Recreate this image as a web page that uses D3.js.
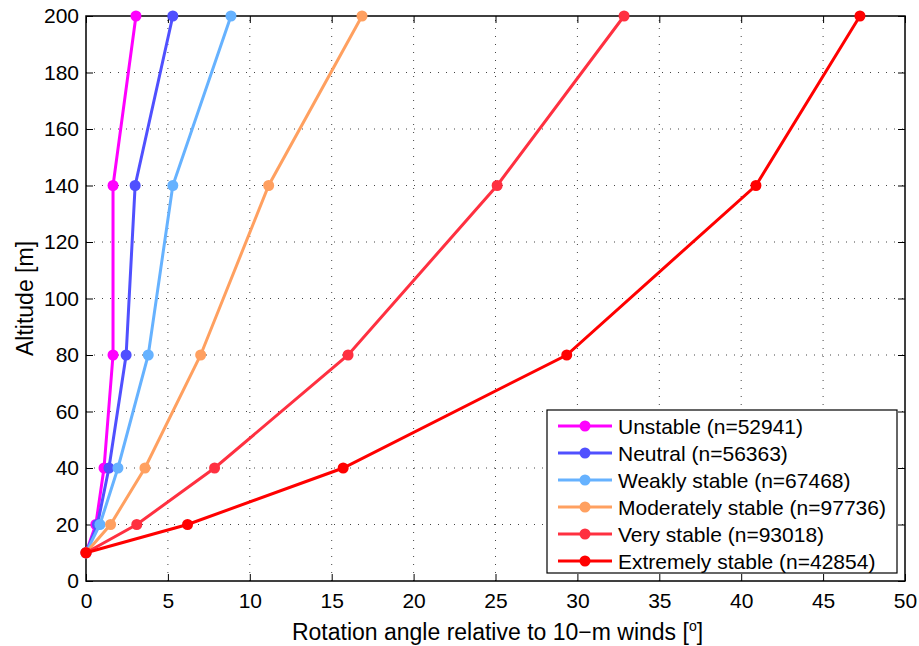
<!DOCTYPE html>
<html>
<head>
<meta charset="utf-8">
<script src="https://cdn.jsdelivr.net/npm/d3@7"></script>
<style>
body { margin: 0; background: #fff; }
svg { font-family: "Liberation Sans", Arial, sans-serif; }
</style>
</head>
<body>
<div id="chart"></div>
<script>
// altitudes of the measurement levels [m]
var altitudes = [10, 20, 40, 80, 140, 200];

var seriesNames = ["Unstable (n=52941)", "Neutral (n=56363)", "Weakly stable (n=67468)",
  "Moderately stable (n=97736)", "Very stable (n=93018)", "Extremely stable (n=42854)"];
var seriesColors = ["#ff00ff", "#5050ff", "#66b2ff", "#ffa060", "#ff3040", "#ff0000"];

// rotation angles [deg] at each altitude
var unstable   = [0, 0.6, 1.1, 1.65, 1.65, 3.05];
var neutral    = [0, 0.7, 1.4, 2.45, 3.0, 5.3];
var weakly     = [0, 0.85, 1.95, 3.8, 5.3, 8.85];
var moderately = [0, 1.5, 3.6, 7.0, 11.15, 16.85];
var very       = [0, 3.1, 7.85, 16.0, 25.1, 32.85];
var extremely  = [0, 6.2, 15.7, 29.35, 40.9, 47.25];

var allSeries = [unstable, neutral, weakly, moderately, very, extremely];

var xTicks = [0, 5, 10, 15, 20, 25, 30, 35, 40, 45, 50];
var yTicks = [0, 20, 40, 60, 80, 100, 120, 140, 160, 180, 200];

var W = 919, H = 646;
var margin = {top: 16, right: 14, bottom: 65, left: 86};
var width = W - margin.left - margin.right,
    height = H - margin.top - margin.bottom;

var svg = d3.select("#chart").append("svg")
  .attr("width", W).attr("height", H);
var g = svg.append("g")
  .attr("transform", "translate(" + margin.left + "," + margin.top + ")");

var x = d3.scaleLinear().domain([0, 50]).range([0, width]);
var y = d3.scaleLinear().domain([0, 200]).range([height, 0]);

// dotted grid
g.append("g").selectAll("line").data(xTicks.slice(1, -1)).enter().append("line")
  .attr("x1", function(d){ return x(d); }).attr("x2", function(d){ return x(d); })
  .attr("y1", height).attr("y2", 0)
  .attr("stroke", "#444").attr("stroke-dasharray", "1,7");
g.append("g").selectAll("line").data(yTicks.slice(1, -1)).enter().append("line")
  .attr("y1", function(d){ return y(d); }).attr("y2", function(d){ return y(d); })
  .attr("x1", 0).attr("x2", width)
  .attr("stroke", "#444").attr("stroke-dasharray", "1,7");

// axes with inward ticks (also on top and right)
function styleAxis(sel) {
  sel.select(".domain").remove();
  sel.selectAll("text").style("font-size", "21px").attr("fill", "#000");
  sel.selectAll("line").attr("stroke", "#000");
}
g.append("g").attr("transform", "translate(0," + height + ")")
  .call(d3.axisBottom(x).tickValues(xTicks).tickSizeInner(-7).tickPadding(12))
  .call(styleAxis);
g.append("g")
  .call(d3.axisLeft(y).tickValues(yTicks).tickSizeInner(-7).tickPadding(7))
  .call(styleAxis);
g.append("g")
  .call(d3.axisTop(x).tickValues(xTicks).tickSizeInner(-7).tickFormat(""))
  .call(styleAxis);
g.append("g").attr("transform", "translate(" + width + ",0)")
  .call(d3.axisRight(y).tickValues(yTicks).tickSizeInner(-7).tickFormat(""))
  .call(styleAxis);

g.append("rect").attr("width", width).attr("height", height)
  .attr("fill", "none").attr("stroke", "#000").attr("stroke-width", 1.5);

// lines
var line = d3.line()
  .x(function(d){ return x(d[0]); })
  .y(function(d){ return y(d[1]); });

allSeries.forEach(function(s, i) {
  var pts = s.map(function(v, j){ return [v, altitudes[j]]; });
  g.append("path").datum(pts)
    .attr("d", line)
    .attr("fill", "none")
    .attr("stroke", seriesColors[i])
    .attr("stroke-width", 3);
  g.selectAll(".pt" + i).data(pts).enter().append("circle")
    .attr("class", "pt" + i)
    .attr("cx", function(d){ return x(d[0]); })
    .attr("cy", function(d){ return y(d[1]); })
    .attr("r", 5.5)
    .attr("fill", seriesColors[i]);
});

// axis labels
svg.append("text")
  .attr("x", margin.left + width / 2 + 2).attr("y", 640)
  .attr("text-anchor", "middle").style("font-size", "23px")
  .html('Rotation angle relative to 10\u2212m winds [<tspan dy="-9" font-size="14px">o</tspan><tspan dy="9">]</tspan>');
svg.append("text")
  .attr("transform", "translate(33," + (margin.top + height / 2) + ") rotate(-90)")
  .attr("text-anchor", "middle").style("font-size", "23px")
  .text("Altitude [m]");

// legend
var legend = svg.append("g").attr("transform", "translate(547,410)");
legend.append("rect").attr("width", 350).attr("height", 163)
  .attr("fill", "#fff").attr("stroke", "#000").attr("stroke-width", 1.2);
seriesNames.forEach(function(name, i) {
  var ly = 16 + i * 27;
  legend.append("line").attr("x1", 11).attr("x2", 65)
    .attr("y1", ly).attr("y2", ly)
    .attr("stroke", seriesColors[i]).attr("stroke-width", 3);
  legend.append("circle").attr("cx", 38).attr("cy", ly).attr("r", 5.5)
    .attr("fill", seriesColors[i]);
  legend.append("text").attr("x", 71).attr("y", ly + 7.5)
    .style("font-size", "21px").text(name);
});
</script>
</body>
</html>
